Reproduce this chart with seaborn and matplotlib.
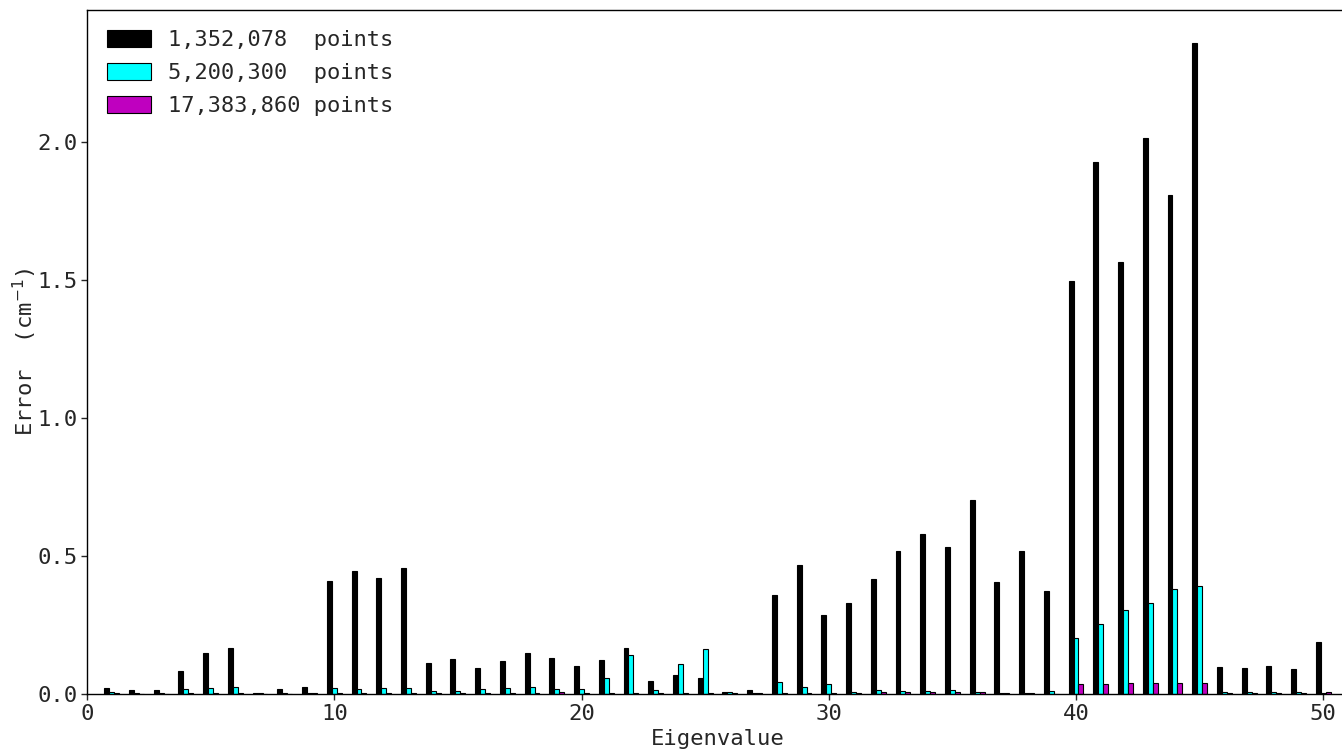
import numpy as np
import pandas as pd
import matplotlib
matplotlib.use("Agg")
import matplotlib.pyplot as plt
import seaborn as sns

# Eigenvalue index and errors for three grid resolutions (cm^-1)
eigen_index = list(range(1, 51))

err_1352078 = [0.022, 0.014, 0.014, 0.083, 0.149, 0.168, 0.005, 0.018, 0.025, 0.409,
               0.444, 0.420, 0.458, 0.112, 0.126, 0.093, 0.118, 0.149, 0.132, 0.100,
               0.122, 0.167, 0.047, 0.069, 0.057, 0.008, 0.016, 0.357, 0.467, 0.285,
               0.331, 0.417, 0.518, 0.580, 0.533, 0.703, 0.406, 0.518, 0.373, 1.496,
               1.928, 1.565, 2.015, 1.808, 2.359, 0.098, 0.094, 0.101, 0.089, 0.188]

err_5200300 = [0.007, 0.002, 0.002, 0.018, 0.022, 0.025, 0.003, 0.003, 0.004, 0.022,
               0.018, 0.023, 0.020, 0.010, 0.010, 0.017, 0.020, 0.027, 0.018, 0.018,
               0.058, 0.140, 0.013, 0.109, 0.162, 0.007, 0.004, 0.043, 0.024, 0.035,
               0.006, 0.014, 0.012, 0.012, 0.015, 0.008, 0.002, 0.004, 0.010, 0.202,
               0.252, 0.303, 0.330, 0.380, 0.391, 0.009, 0.009, 0.009, 0.008, 0.002]

err_17383860 = [0.002, 0.001, 0.001, 0.002, 0.002, 0.002, 0.001, 0.001, 0.002, 0.002,
                0.002, 0.002, 0.002, 0.002, 0.003, 0.003, 0.005, 0.005, 0.006, 0.002,
                0.002, 0.002, 0.002, 0.002, 0.002, 0.004, 0.002, 0.003, 0.003, 0.003,
                0.005, 0.006, 0.006, 0.006, 0.006, 0.006, 0.004, 0.004, 0.001, 0.037,
                0.037, 0.040, 0.040, 0.040, 0.040, 0.005, 0.005, 0.005, 0.005, 0.006]

series_labels = ["1,352,078  points", "5,200,300  points", "17,383,860 points"]
series_colors = ["#000000", "#00ffff", "#bf00bf"]

df = pd.DataFrame({
    "Eigenvalue": eigen_index * 3,
    "Error": err_1352078 + err_5200300 + err_17383860,
    "Grid": [series_labels[0]] * 50 + [series_labels[1]] * 50 + [series_labels[2]] * 50,
})

sns.set_theme(style="ticks")
plt.rcParams["font.family"] = ["DejaVu Sans Mono", "DejaVu Sans"]
plt.rcParams["font.size"] = 16
plt.rcParams["mathtext.fontset"] = "dejavusans"

fig = plt.figure(figsize=(13.42, 7.52), dpi=100)
ax = fig.add_axes([87 / 1342, 58 / 752, (1348 - 87) / 1342, 684 / 752])

sns.barplot(data=df, x="Eigenvalue", y="Error", hue="Grid",
            hue_order=series_labels, palette=series_colors, saturation=1,
            native_scale=True, width=0.6, dodge=True, errorbar=None,
            edgecolor="black", linewidth=0.8, ax=ax)

ax.set_xlim(0, 51)
ax.set_ylim(0, max(err_1352078) * 1.05)
ax.set_xticks([0, 10, 20, 30, 40, 50])
ax.set_yticks([0.0, 0.5, 1.0, 1.5, 2.0])
ax.set_yticklabels(["0.0", "0.5", "1.0", "1.5", "2.0"])
ax.tick_params(axis="both", labelsize=16, length=4, width=1, direction="out", pad=3)
for sp in ax.spines.values():
    sp.set_linewidth(1.0)
    sp.set_color("black")

ax.set_xlabel("Eigenvalue", fontsize=16, labelpad=4)
ax.set_ylabel("Error  (cm$^{-1}$)", fontsize=16, labelpad=-1)

handles, labels = ax.get_legend_handles_labels()
ax.legend(handles, labels, loc="upper left", frameon=False, fontsize=15.8,
          handlelength=2.0, handleheight=0.8, labelspacing=0.6,
          borderaxespad=0.5, handletextpad=0.8)

fig.savefig("out.png", dpi=100)
